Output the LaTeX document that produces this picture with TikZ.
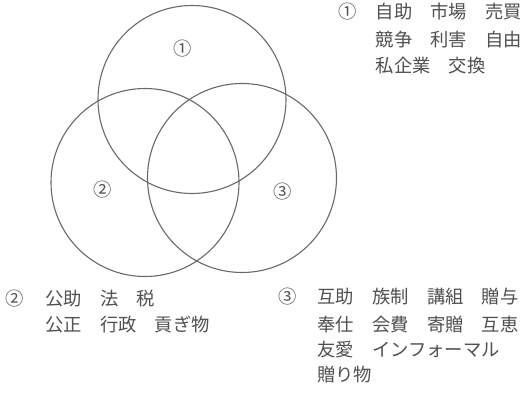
\documentclass[tikz,border=0pt]{standalone}
\usepackage{fontspec}
\newfontfamily\jp{Noto Sans CJK JP}
\definecolor{ink}{RGB}{80,80,80}
\definecolor{ring}{RGB}{105,105,105}
\begin{document}
\begin{tikzpicture}[x=1pt,y=-1pt,
  ringbox/.style={circle,draw=ring,line width=1.1pt,inner sep=0pt},
  lbl/.style={inner sep=0pt,text=ink,font=\jp\fontsize{18.3pt}{22pt}\selectfont,
    text height=0.88em,text depth=0.12em},
  txt/.style={lbl,anchor=west}]
\useasboundingbox[fill=white] (0,0) rectangle (523,394);
% circles
\node[ringbox,minimum size=188pt] (c1) at (192,99.5) {};
\node[ringbox,minimum size=188pt] (c2) at (145,182.5) {};
\node[ringbox,minimum size=189pt] (c3) at (242,178) {};
% inner labels
\node[lbl] (n1) at (183,52) {①};
\node[lbl] (n2) at (103,193) {②};
\node[lbl] (n3) at (283,195) {③};
% top-right block
\node[lbl] (k1) at (348,15) {①};
\node[txt] (t11) at (375.5,15) {自助　市場　売買};
\node[txt] (t12) at (375.5,43) {競争　利害　自由};
\node[txt] (t13) at (375.5,69) {私企業　交換};
% bottom-left block
\node[lbl] (k2) at (15,302) {②};
\node[txt] (t21) at (45,302) {公助　法　税};
\node[txt] (t22) at (45,328) {公正　行政　貢ぎ物};
% bottom-right block
\node[lbl] (k3) at (288,300) {③};
\node[txt] (t31) at (317,300) {互助　族制　講組　贈与};
\node[txt] (t32) at (317,328) {奉仕　会費　寄贈　互恵};
\node[txt] (t33) at (317,353) {友愛　インフォーマル};
\node[txt] (t34) at (317,378) {贈り物};
\end{tikzpicture}
\end{document}
